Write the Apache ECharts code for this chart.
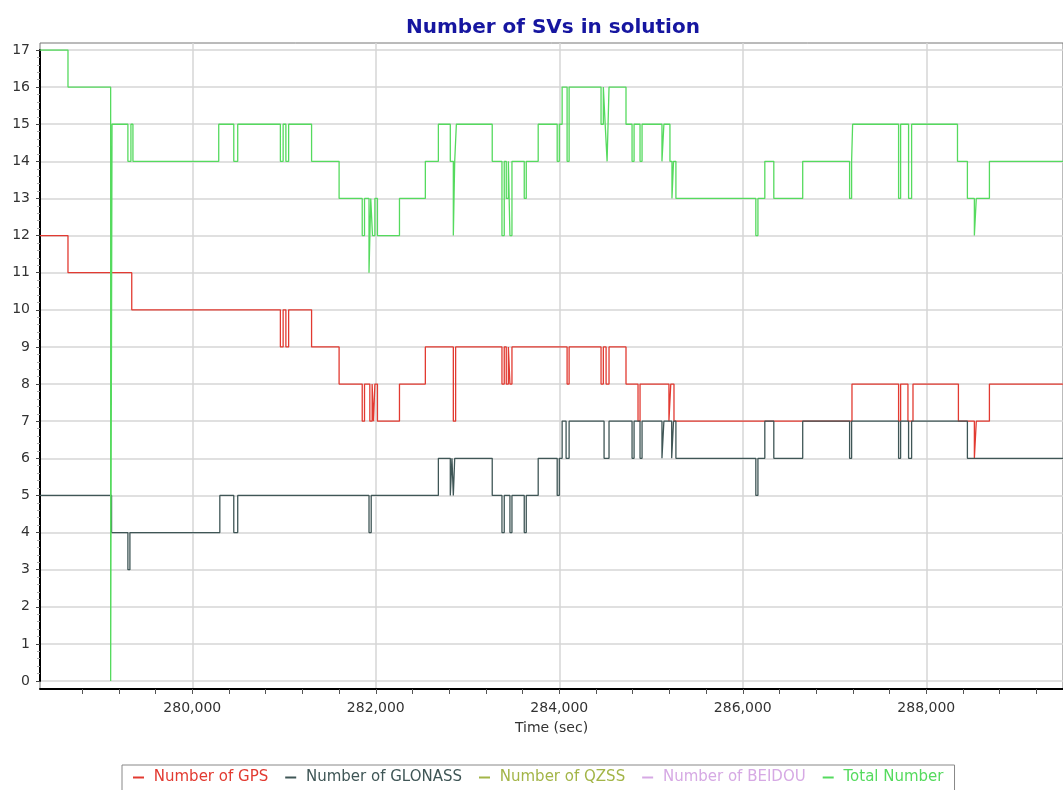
<!DOCTYPE html>
<html><head><meta charset="utf-8">
<script src="https://cdn.jsdelivr.net/npm/echarts@6/dist/echarts.min.js"></script>
<style>html,body{margin:0;padding:0;background:#fff}#c{width:1063px;height:790px}</style>
</head><body><div id="c"></div>
<script>
// ---- data ----
const xMin = 278340, xMax = 289490;
const xLabelValues = [280000, 282000, 284000, 286000, 288000];
const xMinorTickValues = [278800,279200,279600,280000,280400,280800,281200,281600,282000,282400,282800,283200,283600,284000,284400,284800,285200,285600,286000,286400,286800,287200,287600,288000,288400,288800,289200];
const seriesNames = ['Number of GPS','Number of GLONASS','Number of QZSS','Number of BEIDOU','Total Number'];

// [time (sec), value] ; value holds until next point
const gpsData = [
 [278340,12],[278645,11],[279340,10],
 [280960,9],[280990,10],[281020,9],[281050,10],
 [281300,9],[281600,8],[281852,7],[281877,8],[281935,7],[281960,8],[281975,7],[281990,8],[282018,7],
 [282258,8],[282540,9],[282845,7],[282870,9],
 [283375,8],[283400,9],[283422,8],[283445,9],[283462,8],[283484,9],
 [284085,8],[284107,9],[284455,8],[284480,9],[284510,8],[284542,9],
 [284727,8],[284858,7],[284880,8],[285195,7],[285215,8],[285250,7],
 [287190,8],[287698,7],[287720,8],[287800,7],[287855,8],
 [288350,7],[288524,6],[288545,7],[288688,8],[289490,8]
];
const glonassData = [
 [278340,5],[279120,4],[279298,3],[279320,4],[280300,5],[280452,4],[280495,5],
 [281926,4],[281950,5],[282682,6],[282812,5],[282830,6],[282845,5],[282860,6],
 [283269,5],[283375,4],[283400,5],[283462,4],[283484,5],[283618,4],[283640,5],
 [283770,6],[283977,5],[284000,6],[284031,7],[284074,6],[284107,7],
 [284488,6],[284542,7],[284793,6],[284815,7],[284880,6],[284902,7],
 [285119,6],[285140,7],[285225,6],[285245,7],[285271,6],
 [286142,5],[286165,6],[286240,7],[286338,6],[286653,7],[287164,6],[287186,7],
 [287698,6],[287720,7],[287807,6],[287840,7],[288448,6],[289490,6]
];
const qzssData = [];
const beidouData = [];
const totalData = [
 [278340,17],[278645,16],[279110,0],[279125,15],[279298,14],[279331,15],[279353,14],
 [280288,15],[280452,14],[280495,15],
 [280960,14],[280990,15],[281020,14],[281050,15],
 [281300,14],[281600,13],[281852,12],[281877,13],[281926,11],[281945,13],[281964,12],[281990,13],[282018,12],
 [282258,13],[282540,14],[282682,15],[282812,14],[282845,12],[282860,14],[282878,15],
 [283269,14],[283375,12],[283400,14],[283422,13],[283445,14],[283462,12],[283484,14],[283618,13],[283640,14],
 [283770,15],[283977,14],[284000,15],[284031,16],[284085,14],[284107,16],
 [284455,15],[284480,16],[284500,15],[284521,14],[284542,16],
 [284727,15],[284793,14],[284815,15],[284880,14],[284902,15],
 [285119,14],[285140,15],[285206,14],[285228,13],[285245,14],[285271,13],
 [286142,12],[286165,13],[286240,14],[286338,13],[286653,14],
 [287164,13],[287186,14],[287197,15],[287698,13],[287720,15],[287807,13],[287840,15],
 [288340,14],[288448,13],[288524,12],[288545,13],[288688,14],[289490,14]
];
const colors = ['#e23a31','#3f5656','#a3b548','#d6a9e4','#55da5e'];
const seriesData = [gpsData, glonassData, qzssData, beidouData, totalData];

// ---- chart ----
const chart = echarts.init(document.getElementById('c'), null, {renderer:'canvas'});
const FONT = 'DejaVu Sans';
const option = {
  animation: false,
  backgroundColor: '#fff',
  title: {
    text: 'Number of SVs in solution', left: 401, top: 13,
    textStyle: {fontFamily: FONT, fontSize: 20, fontWeight: 'bold', color: '#1616a0'}
  },
  legend: {
    top: 765, left: 122,
    data: seriesNames.map((n,i)=>({name:n, textStyle:{color: colors[i]}})),
    formatter: n => ' ' + n,
    icon: 'rect', itemWidth: 11, itemHeight: 2, itemGap: 17,
    borderColor: '#888', borderWidth: 1, padding: [5, 11, 9, 11],
    textStyle: {fontFamily: FONT, fontSize: 15}
  },
  grid: [
    {left: 40, right: -2, top: 43, bottom: 101, show: true, borderColor: '#777', borderWidth: 1, backgroundColor: 'transparent'},
    {left: 40, right: -2, top: 50, bottom: 109}
  ],
  xAxis: [
    {gridIndex: 0, type: 'value', position: 'bottom', min: xMin, max: xMax,
     axisLine: {show: true, lineStyle: {color: '#000', width: 2}},
     axisTick: {show: true, customValues: xMinorTickValues, length: 5, lineStyle: {color: '#555'}},
     axisLabel: {customValues: xLabelValues, fontFamily: FONT, fontSize: 14, color: '#333', margin: 12,
       formatter: v => v.toLocaleString('en-US')},
     splitLine: {show: false},
     name: 'Time (sec)', nameLocation: 'middle', nameGap: 32,
     nameTextStyle: {fontFamily: FONT, fontSize: 14, color: '#333'}},
    {gridIndex: 0, type: 'value', position: 'top', min: xMin, max: xMax,
     axisLine: {show: false}, axisTick: {show: false, customValues: xLabelValues},
     axisLabel: {show: false, customValues: xLabelValues},
     splitLine: {show: true, lineStyle: {color: '#d6d6d6', width: 1.5}}},
    {gridIndex: 1, type: 'value', min: xMin, max: xMax, show: false, splitLine: {show: false}}
  ],
  yAxis: [
    {gridIndex: 0, type: 'value', min: 0, max: 1, show: false, splitLine: {show: false}},
    {gridIndex: 1, type: 'value', min: 0, max: 17, interval: 1,
     axisLine: {show: true, lineStyle: {color: '#000', width: 2}},
     axisTick: {show: true, length: 4, lineStyle: {color: '#444'}},
     minorTick: {show: true, splitNumber: 5, length: 3, lineStyle: {color: '#aaa'}},
     axisLabel: {fontFamily: FONT, fontSize: 14, color: '#333', margin: 10},
     splitLine: {show: true, lineStyle: {color: '#d6d6d6', width: 1.5}}}
  ],
  series: seriesNames.map((n,i)=>({
    name: n, type: 'line', xAxisIndex: 2, yAxisIndex: 1,
    step: 'end', showSymbol: false, symbol: 'none',
    data: seriesData[i], color: colors[i],
    lineStyle: {width: 1.3, color: colors[i]},
    emphasis: {disabled: true}
  }))
};
chart.setOption(option);
</script>
</body></html>
